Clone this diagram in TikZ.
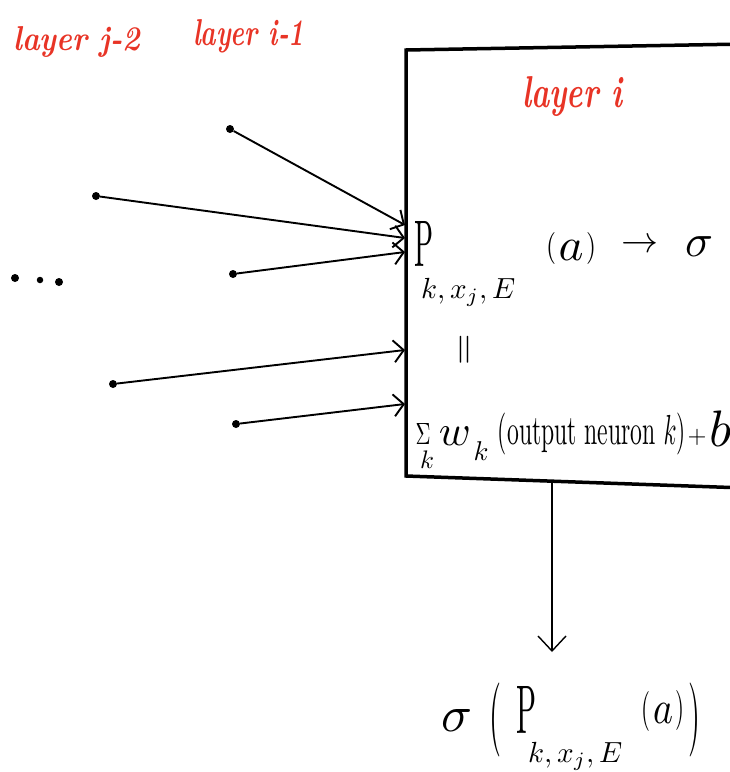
\documentclass[tikz,border=0pt]{standalone}
\usepackage{graphicx}
\usetikzlibrary{arrows.meta}
\definecolor{hand}{RGB}{232,52,38}
\begin{document}
\begin{tikzpicture}[x=1pt,y=-1pt,
  redtxt/.style={text=hand, inner sep=0pt, font=\bfseries\itshape},
  blk/.style={inner sep=0pt},
  dotn/.style={circle, fill=black, inner sep=0pt, minimum size=8pt},
  feed/.style={line width=1.9pt, -{Straight Barb[length=10pt,width=22pt]}},
  boxline/.style={line width=3.5pt, line join=miter},
  outarrow/.style={line width=1.4pt, -{Straight Barb[length=15pt,width=28pt]}}]
\useasboundingbox (0,0) rectangle (730,772);
\clip (0,0) rectangle (730,772);

% layer labels
\node[redtxt, anchor=base west] (l2) at (13,50) {\resizebox{127pt}{24pt}{layer j-2}};
\node[redtxt, anchor=base west] (l1) at (193,45) {\resizebox{111pt}{26pt}{layer i-1}};

% box of layer i
\draw[boxline] (745,44) -- (406,50) -- (406,476) -- (745,488);
\coordinate (bb) at (552,481);
\node[redtxt, anchor=base west] (li) at (522,107) {\resizebox{100pt}{31pt}{layer i}};

% input neurons
\node[dotn] (d1) at (230,129) {};
\node[dotn] (d2) at (96,196) {};
\node[dotn] (d3) at (233,274) {};
\node[dotn] (d4) at (113,384) {};
\node[dotn] (d5) at (236,424) {};
\coordinate (e1) at (405,225);
\coordinate (e2) at (405,238);
\coordinate (e3) at (405,252);
\coordinate (e4) at (405,350);
\coordinate (e5) at (405,404);
\foreach \i in {1,...,5} \draw[feed] (d\i) -- (e\i);

% ellipsis
\node[dotn] (el1) at (15,278) {};
\node[dotn, minimum size=6.5pt] (el2) at (40,280) {};
\node[dotn] (el3) at (59,282) {};

% formula inside the box
\node[blk, anchor=south west] (P1) at (414,267) {\resizebox{19pt}{45pt}{P}};
\node[blk, anchor=base west] (s1) at (421,298) {\resizebox{94pt}{!}{$k,x_j,E$}};
\node[blk] (a1l) at (551,248) {\resizebox*{10pt}{32pt}{(}};
\node[blk] (a1) at (571,250) {\resizebox{25pt}{20pt}{$a$}};
\node[blk] (a1r) at (591,248) {\resizebox*{10pt}{32pt}{)}};
\node[blk] (r1) at (640,246) {\resizebox{37pt}{!}{$\rightarrow$}};
\node[blk] (g1) at (699,247) {\resizebox{28pt}{!}{$\sigma$}};

\node[blk] (eq) at (464,350) {\resizebox*{18pt}{27pt}{$\|$}};

\node[blk] (sg) at (423,434) {\resizebox{15pt}{21pt}{$\Sigma$}};
\node[blk] (sk) at (427,460) {\resizebox{14pt}{!}{$k$}};
\node[blk] (w) at (455,436) {\resizebox{32pt}{!}{$w$}};
\node[blk] (wk) at (481,451) {\resizebox{15pt}{!}{$k$}};
\node[blk] (on) at (592,434) {\resizebox*{188pt}{42pt}{(output neuron $k$)}};
\node[blk] (pl) at (697,437) {\resizebox{19pt}{!}{$+$}};
\node[blk, anchor=base west] (bi) at (709,446) {\resizebox{22pt}{!}{$b$}};

% output
\draw[outarrow] (bb) -- (552,652) coordinate (oa);
\node[blk] (g2) at (457,720) {\resizebox{31pt}{!}{$\sigma$}};
\node[blk] (lp) at (495,720) {\resizebox*{12pt}{74pt}{(}};
\node[blk, anchor=south west] (P2) at (516,734) {\resizebox{20pt}{47pt}{P}};
\node[blk, anchor=base west] (s2) at (528,762) {\resizebox{94pt}{!}{$k,x_j,E$}};
\node[blk] (a2l) at (646,711) {\resizebox*{9pt}{40pt}{(}};
\node[blk] (a2) at (663,713) {\resizebox{20pt}{20pt}{$a$}};
\node[blk] (a2r) at (680,710) {\resizebox*{9pt}{40pt}{)}};
\node[blk] (rp) at (694,720) {\resizebox*{12pt}{74pt}{)}};
\end{tikzpicture}
\end{document}
